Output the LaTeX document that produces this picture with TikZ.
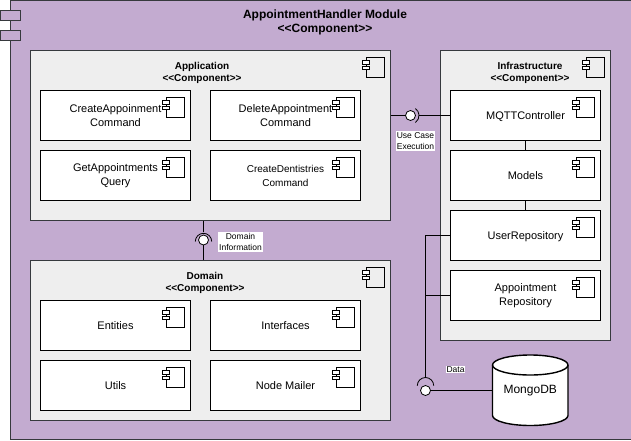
\documentclass[tikz,border=0pt]{standalone}
\usepackage{fontspec}
\setmainfont{Liberation Sans}
\definecolor{purplebg}{HTML}{C3ABD0}
\definecolor{greybg}{HTML}{EEEEEE}
\definecolor{edgegrey}{HTML}{36393D}
\newcommand{\stereo}{<{}<Component>{}>}
\tikzset{
  base/.style={rectangle,inner sep=0pt,align=center,line width=0.9pt},
  outerbox/.style={base,draw=edgegrey,fill=purplebg},
  portbox/.style={base,draw=edgegrey,fill=purplebg,minimum width=20pt,minimum height=10pt},
  groupbox/.style={base,draw=edgegrey,fill=greybg},
  itembox/.style={base,draw=black,fill=white,minimum width=150pt,minimum height=50pt,font=\fontsize{11}{14}\selectfont},
  oneline/.style={itembox,text height=7.9pt,text depth=0pt},
  grouptitle/.style={inner sep=0pt,align=center,font=\fontsize{10}{12}\selectfont\bfseries},
  tag/.style={fill=white,inner sep=1pt,align=center,font=\fontsize{8.5}{11}\selectfont},
  wire/.style={line width=0.8pt,draw=black},
  ball/.style={circle,draw=black,fill=white,line width=0.8pt,minimum size=10pt,inner sep=0pt},
  compicon/.pic={
    \draw[line width=0.7pt,fill=none] (-25,7) rectangle (-6.5,27);
    \draw[line width=0.7pt,fill=white] (-28.5,10) rectangle (-21.5,14.5);
    \draw[line width=0.7pt,fill=white] (-28.5,16) rectangle (-21.5,19.5);
  }
}
\begin{document}
\begin{tikzpicture}[x=1pt,y=-1pt]
\useasboundingbox (0,0) rectangle (631,441);
\fill[white] (0,0) rectangle (631,441);
% outer
\node[outerbox,minimum width=630pt,minimum height=439pt] (outer) at (325.5,219.5) {};
\node[portbox] (port1) at (10.5,15.5) {};
\node[portbox] (port2) at (10.5,35.5) {};
\node[inner sep=0pt,align=center,font=\fontsize{12}{14}\selectfont\bfseries] (title) at (325,22) {AppointmentHandler Module\\\stereo};
% groups
\node[groupbox,minimum width=360pt,minimum height=170pt] (app) at (210.5,135.5) {};
\node[groupbox,minimum width=360pt,minimum height=160pt] (dom) at (210.5,340.5) {};
\node[groupbox,minimum width=170pt,minimum height=290pt] (inf) at (525.5,195.5) {};
\node[grouptitle] (apptitle) at (202,72.5) {Application\\\stereo};
\node[grouptitle] (domtitle) at (205,282.5) {Domain\\\stereo};
\node[grouptitle] (inftitle) at (530,73) {Infrastructure\\\stereo};
% items
\node[itembox] (create) at (115.5,115.5) {CreateAppoinment\\Command};
\node[itembox] (delete) at (285.5,115.5) {DeleteAppointment\\Command};
\node[itembox] (getq) at (115.5,175.5) {GetAppointments\\Query};
\node[itembox,font=\fontsize{10}{14}\selectfont] (dentist) at (285.5,175.5) {CreateDentistries\\Command};
\node[oneline] (entities) at (115.5,325.5) {Entities};
\node[oneline] (ifaces) at (285.5,325.5) {Interfaces};
\node[oneline] (utils) at (115.5,385.5) {Utils};
\node[oneline] (mailer) at (285.5,385.5) {Node Mailer};
\node[oneline] (mqtt) at (525.5,115.5) {MQTTController};
\node[oneline] (models) at (525.5,175.5) {Models};
\node[oneline] (userrepo) at (525.5,235.5) {UserRepository};
\node[itembox] (apptrepo) at (525.5,295.5) {Appointment\\Repository};
% icons
\foreach \n in {app,dom,inf,create,delete,getq,dentist,entities,ifaces,utils,mailer,mqtt,models,userrepo,apptrepo}
  \pic at (\n.north east) {compicon};
% links between infrastructure items
\draw[wire] (mqtt.south) -- (models.north);
\draw[wire] (models.south) -- (userrepo.north);
% use case lollipop
\node[ball] (ucball) at (410.5,115.5) {};
\coordinate (ucarc) at (419,115.5);
\draw[wire] (app.east |- ucball) -- (ucball.west);
\draw[wire] (ucarc) -- (mqtt.west);
\draw[wire] (415.4,122.5) arc[start angle=-55,end angle=55,radius=8.5pt];
\node[tag] (uctag) at (415.5,141) {Use Case\\Execution};
% domain lollipop
\node[ball] (domball) at (203.5,240) {};
\coordinate (domarc) at (203.5,232);
\draw[wire] (app.south -| domball) -- (domarc);
\draw[wire] (domball.south) -- (dom.north -| domball);
\draw[wire] (195.3,241.5) arc[start angle=180,end angle=0,radius=8.2pt];
\node[tag] (domtag) at (240.5,242) {Domain\\Information};
% database
\draw[line width=1.4pt,fill=white] (492.5,365) arc[start angle=180,end angle=0,x radius=37.75pt,y radius=10pt] -- (568,415.5) arc[start angle=0,end angle=-180,x radius=37.75pt,y radius=10pt] -- cycle;
\draw[line width=1.4pt] (492.5,365) arc[start angle=180,end angle=360,x radius=37.75pt,y radius=10pt];
\node[rectangle,inner sep=0pt,minimum width=75.5pt,minimum height=70pt,font=\fontsize{12}{14}\selectfont] (mongo) at (530.25,390.5) {MongoDB};
% data lollipop
\node[ball] (databall) at (425.5,390.5) {};
\coordinate (dataarc) at (425.5,377.5);
\coordinate (datatop) at (425.5,235.5);
\coordinate (datamid) at (425.5,295.5);
\draw[wire] (userrepo.west) -- (datatop) -- (dataarc);
\draw[wire] (apptrepo.west) -- (datamid);
\draw[wire] (417.3,385.7) arc[start angle=180,end angle=0,radius=8.2pt];
\draw[wire] (databall.east) -- (mongo.west |- databall);
\node[tag,inner sep=0.5pt] (datatag) at (455.5,369.5) {Data};
\end{tikzpicture}
\end{document}
